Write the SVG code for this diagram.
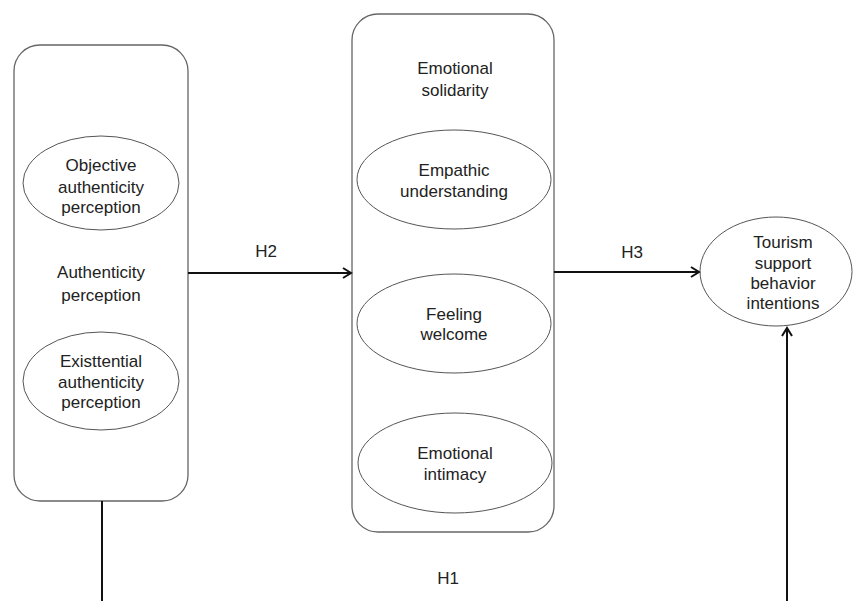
<svg xmlns="http://www.w3.org/2000/svg" width="853" height="601" viewBox="0 0 853 601">
<defs>
<marker id="arr" markerWidth="12" markerHeight="12" refX="10" refY="6" orient="auto" markerUnits="userSpaceOnUse">
<path d="M2,1 L10,6 L2,11" fill="none" stroke="#111" stroke-width="2"/>
</marker>
</defs>
<style>
.box{fill:#fff;stroke:#666;stroke-width:1.3}
.ell{fill:#fff;stroke:#555;stroke-width:1}
text{font-family:Arial,"Liberation Sans",sans-serif;font-size:17px;fill:#222;text-anchor:middle}
.con{stroke:#111;stroke-width:2;fill:none}
</style>
<rect width="853" height="601" fill="#fff"/>
<g id="authenticity">
<rect class="box" x="14" y="45" width="174" height="456" rx="26"/>
<text x="101" y="278">Authenticity</text>
<text x="101" y="301">perception</text>
</g>
<g id="objective">
<ellipse class="ell" cx="101" cy="183" rx="78" ry="47"/>
<text x="101" y="171">Objective</text>
<text x="101" y="193">authenticity</text>
<text x="101" y="213">perception</text>
</g>
<g id="existential">
<ellipse class="ell" cx="101" cy="381" rx="78" ry="49"/>
<text x="101" y="367">Existtential</text>
<text x="101" y="388">authenticity</text>
<text x="101" y="408">perception</text>
</g>
<g id="solidarity">
<rect class="box" x="352" y="14" width="202" height="518" rx="26"/>
<text x="455" y="74">Emotional</text>
<text x="455" y="96">solidarity</text>
</g>
<g id="empathic">
<ellipse class="ell" cx="454" cy="179.5" rx="97" ry="49.5"/>
<text x="454" y="176">Empathic</text>
<text x="454" y="197">understanding</text>
</g>
<g id="welcome">
<ellipse class="ell" cx="454" cy="323.5" rx="97" ry="49.5"/>
<text x="454" y="320">Feeling</text>
<text x="454" y="340">welcome</text>
</g>
<g id="intimacy">
<ellipse class="ell" cx="455" cy="463" rx="97" ry="50"/>
<text x="455" y="459">Emotional</text>
<text x="455" y="480">intimacy</text>
</g>
<g id="tourism">
<ellipse class="ell" cx="776" cy="271.5" rx="76" ry="54.5"/>
<text x="783" y="248">Tourism</text>
<text x="783" y="269">support</text>
<text x="783" y="289">behavior</text>
<text x="783" y="309">intentions</text>
</g>
<g id="connectors">
<line class="con" x1="188" y1="273" x2="351" y2="273" marker-end="url(#arr)"/>
<line class="con" x1="554" y1="272" x2="699" y2="272" marker-end="url(#arr)"/>
<line class="con" x1="102" y1="501" x2="102" y2="601"/>
<line class="con" x1="787" y1="601" x2="787" y2="328" marker-end="url(#arr)"/>
<text x="266" y="257">H2</text>
<text x="632" y="258">H3</text>
<text x="448" y="584">H1</text>
</g>
</svg>
